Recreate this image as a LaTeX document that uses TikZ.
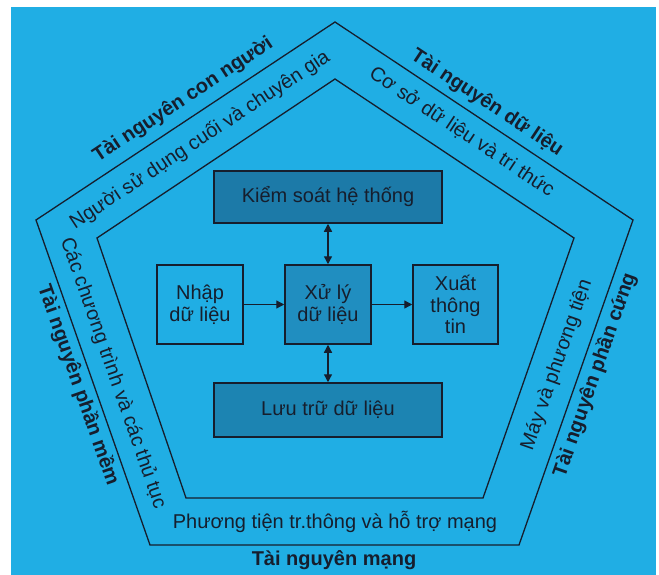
\documentclass[tikz,border=0pt]{standalone}
\usepackage{fontspec}
\setmainfont{Liberation Sans}
\usetikzlibrary{arrows.meta}
\definecolor{bgblue}{RGB}{32,174,228}
\definecolor{ksfill}{RGB}{28,122,168}
\definecolor{xlfill}{RGB}{32,142,192}
\definecolor{xtfill}{RGB}{34,160,214}
\definecolor{ltfill}{RGB}{28,132,178}
\definecolor{ink}{RGB}{22,30,45}
\tikzset{
  edge/.style={draw=ink, line width=1.3pt},
  boxnode/.style={draw=ink, line width=1.5pt, align=center, inner sep=0pt, text=ink,
    font=\fontsize{20}{21.5}\selectfont},
  bandlbl/.style={text=ink, inner sep=0pt, font=\fontsize{20}{22}\selectfont},
  reslbl/.style={text=ink, inner sep=0pt, font=\fontsize{20}{22}\selectfont\bfseries},
  flow/.style={draw=ink, line width=1.3pt, -{Triangle[length=8pt,width=8pt]}},
  dflow/.style={draw=ink, line width=1.3pt, {Triangle[length=8pt,width=8pt]}-{Triangle[length=8pt,width=8pt]}}
}
\begin{document}
\begin{tikzpicture}[x=1pt,y=-1pt]
\useasboundingbox (0,0) rectangle (659,575);
\fill[white] (0,0) rectangle (659,575);
\fill[bgblue] (11,7) rectangle (656,575);
% pentagons
\coordinate (o1) at (335,22);
\coordinate (o2) at (633,220);
\coordinate (o3) at (519,545);
\coordinate (o4) at (150,545);
\coordinate (o5) at (36,220);
\coordinate (i1) at (335,79);
\coordinate (i2) at (574,238);
\coordinate (i3) at (483,498);
\coordinate (i4) at (186,498);
\coordinate (i5) at (97,238);
\draw[edge, line join=miter] (o1) -- (o2) -- (o3) -- (o4) -- (o5) -- cycle;
\draw[edge, line join=miter] (i1) -- (i2) -- (i3) -- (i4) -- (i5) -- cycle;
% outer resource labels
\node[reslbl, rotate=33.5] (rcon) at (183,100) {Tài nguyên con người};
\node[reslbl, rotate=-33.6] (rdl) at (487,103) {Tài nguyên dữ liệu};
\node[reslbl, rotate=70.7] (rpc) at (595,375) {Tài nguyên phần cứng};
\node[reslbl, rotate=-70.7] (rpm) at (78,385) {Tài nguyên phần mềm};
\node[reslbl] (rm) at (334,560) {Tài nguyên mạng};
% band labels
\node[bandlbl, rotate=33.5] (bnd) at (200,140) {Người sử dụng cuối và chuyên gia};
\node[bandlbl, rotate=-33.6] (bcs) at (462,132) {Cơ sở dữ liệu và tri thức};
\node[bandlbl, rotate=70.7] (bmay) at (557,365) {Máy và phương tiện};
\node[bandlbl, rotate=-70.7] (bct) at (113,373) {Các chương trình và các thủ tục};
\node[bandlbl] (bpt) at (335,522) {Phương tiện tr.thông và hỗ trợ mạng};
% boxes
\node[boxnode, fill=ksfill, minimum width=228pt, minimum height=52pt] (ks) at (328,197) {Kiểm soát hệ thống};
\node[boxnode, fill=bgblue, minimum width=86pt, minimum height=79pt] (nhap) at (200,304.5) {Nhập\\dữ liệu};
\node[boxnode, fill=xlfill, minimum width=86pt, minimum height=79pt] (xuly) at (328,304.5) {Xử lý\\dữ liệu};
\node[boxnode, fill=xtfill, minimum width=85pt, minimum height=79pt] (xuat) at (455.5,304.5) {Xuất\\thông\\tin};
\node[boxnode, fill=ltfill, minimum width=228pt, minimum height=54pt] (luu) at (328,410) {Lưu trữ dữ liệu};
% connectors
\draw[flow] (nhap) -- (xuly);
\draw[flow] (xuly) -- (xuat);
\draw[dflow] (ks) -- (xuly);
\draw[dflow] (xuly) -- (luu);
\end{tikzpicture}
\end{document}
